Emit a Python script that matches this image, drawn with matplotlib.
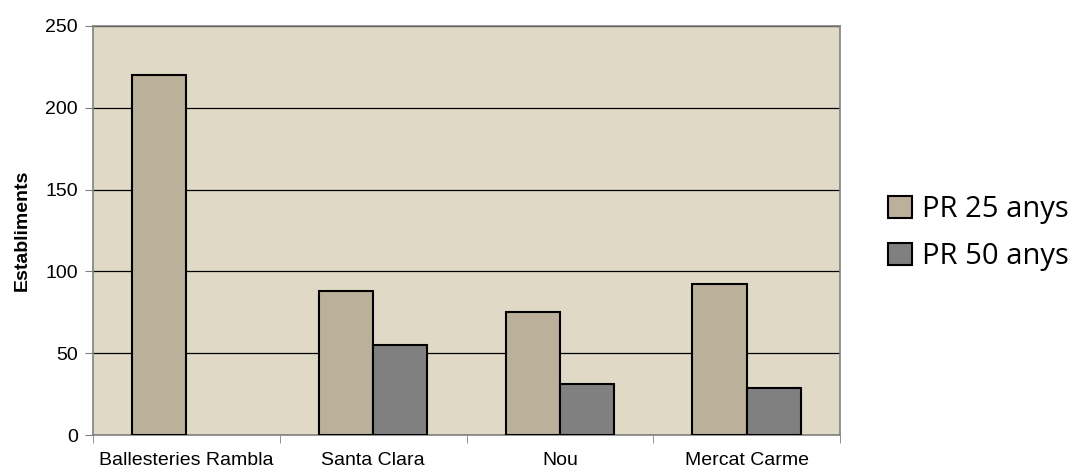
import matplotlib
matplotlib.use("Agg")
import matplotlib.pyplot as plt
import numpy as np

categories = ["Ballesteries Rambla", "Santa Clara", "Nou", "Mercat Carme"]
series_names = ["PR 25 anys", "PR 50 anys"]
pr25 = [220, 88, 75, 92]
pr50 = [0, 55, 31, 29]
yticks = [0, 50, 100, 150, 200, 250]

fig = plt.figure(figsize=(10.89, 4.69), dpi=100)
ax = fig.add_axes([93/1089, 1-435/469, (840-93)/1089, (435-26)/469])
ax.set_facecolor("#DFD9C6")

x = np.arange(len(categories))
w = 0.29
b1 = ax.bar(x - w/2, pr25, w, color="#BBB09A", edgecolor="black", linewidth=1.5, label=series_names[0], zorder=3)
vals50 = [v if v > 0 else np.nan for v in pr50]
b2 = ax.bar(x + w/2, vals50, w, color="#808080", edgecolor="black", linewidth=1.5, label=series_names[1], zorder=3)

ax.set_xlim(-0.5, len(categories) - 0.5)
ax.set_ylim(0, 250)
ax.set_yticks(yticks)
ax.yaxis.grid(True, color="black", linewidth=0.9, zorder=1)
ax.set_axisbelow(True)

ax.set_xticks(x)
ax.set_xticklabels(categories, family="Liberation Sans", fontsize=14)
ax.tick_params(axis="x", length=0, pad=12)
ax.set_xticks(np.arange(-0.5, len(categories) + 0.5, 1), minor=True)
ax.tick_params(axis="x", which="minor", length=6, color="#808080", direction="out")
ax.tick_params(axis="y", length=6, color="#808080", direction="out", pad=5)
for lab in ax.get_yticklabels():
    lab.set_family("Liberation Sans")
    lab.set_fontsize(14)

for s in ax.spines.values():
    s.set_color("#808080")
    s.set_linewidth(1.2)

ax.set_ylabel("Establiments", family="Liberation Sans", fontweight="bold", fontsize=14, labelpad=10)

leg = fig.legend(handles=[b1, b2], labels=series_names, loc="center left",
                 bbox_to_anchor=(868/1089, 1-233/469), frameon=False,
                 prop={"family": "Open Sans", "size": 21},
                 handlelength=0.8, handleheight=0.8, handletextpad=0.35, labelspacing=0.62,
                 borderpad=0.2)

fig.savefig("out.png", dpi=100)
